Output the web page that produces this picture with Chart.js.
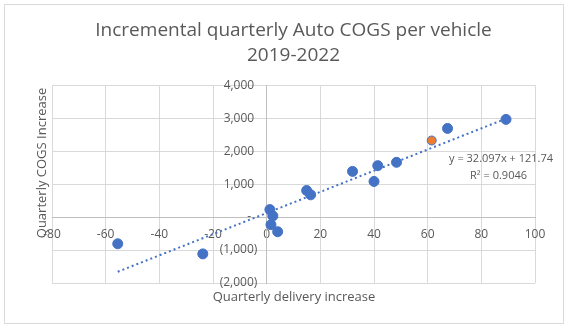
<!DOCTYPE html>
<html>
<head>
<meta charset="utf-8">
<script src="https://cdn.jsdelivr.net/npm/chart.js@4/dist/chart.umd.min.js"></script>
<style>
  html, body { margin: 0; padding: 0; background: #fff; }
  #wrap { width: 571px; height: 329px; position: relative; }
</style>
</head>
<body>
<div id="wrap"><canvas id="chart"></canvas></div>
<script>
// quarterly delivery increase (x) vs quarterly COGS increase (y)
const deliveryIncrease = [-55.5, -23.8, 1.2, 2.3, 1.6, 4.1, 14.9, 16.4, 32.0, 40.0, 41.4, 48.4, 67.4, 89.2];
const cogsIncrease = [-811, -1117, 226, 34, -231, -445, 805, 674, 1385, 1080, 1559, 1660, 2688, 2962];
// highlighted (latest) quarter
const latestDelivery = [61.5];
const latestCogs = [2322];
// linear trend from the chart's label
const trendSlope = 32.097;
const trendIntercept = 121.74;
const trendLabel = ['y = 32.097x + 121.74', 'R² = 0.9046'];
const xTicks = [-80, -60, -40, -20, 0, 20, 40, 60, 80, 100];
const yTicks = [-2000, -1000, 0, 1000, 2000, 3000, 4000];

const textGray = '#595959';
const font = "'Open Sans', 'Liberation Sans', sans-serif";

const points = deliveryIncrease.map((x, i) => ({ x: x, y: cogsIncrease[i] }));
const latest = latestDelivery.map((x, i) => ({ x: x, y: latestCogs[i] }));
const allX = deliveryIncrease.concat(latestDelivery);
const xMin = Math.min(...allX), xMax = Math.max(...allX);
const trend = [
  { x: xMin, y: trendSlope * xMin + trendIntercept },
  { x: xMax, y: trendSlope * xMax + trendIntercept }
];

// accounting style; trailing spaces keep labels off the centred axis
// (tick padding is ignored for value-positioned axes)
function accounting(v) {
  if (v === 0) return '-     ';
  const s = Math.abs(v).toLocaleString('en-US');
  return v < 0 ? '(' + s + ')   ' : s + '    ';
}

// frame, axis titles and trend label
const decorations = {
  id: 'decorations',
  beforeDraw(chart) {
    const ctx = chart.ctx;
    ctx.save();
    ctx.strokeStyle = '#d9d9d9';
    ctx.lineWidth = 1;
    ctx.strokeRect(4.5, 4.5, 559, 319);
    ctx.restore();
  },
  afterDraw(chart) {
    const ctx = chart.ctx;
    const area = chart.chartArea;
    ctx.save();
    ctx.fillStyle = textGray;
    ctx.font = '13px ' + font;
    ctx.textAlign = 'center';
    ctx.textBaseline = 'middle';
    ctx.fillText('Quarterly delivery increase', 294, 297);
    ctx.translate(42, 163);
    ctx.rotate(-Math.PI / 2);
    ctx.fillText('Quarterly COGS Increase', 0, 0);
    ctx.restore();

    ctx.save();
    ctx.fillStyle = textGray;
    ctx.font = '11px ' + font;
    ctx.textAlign = 'right';
    ctx.textBaseline = 'middle';
    ctx.fillText(trendLabel[0], area.right + 18, 159);
    ctx.fillText(trendLabel[1], area.right - 8, 176);
    ctx.restore();
  }
};

new Chart(document.getElementById('chart'), {
  type: 'scatter',
  data: {
    datasets: [
      {
        label: 'Latest',
        data: latest,
        backgroundColor: '#ed7d31',
        borderColor: '#4472c4',
        borderWidth: 1,
        pointRadius: 4.5,
        order: 0
      },
      {
        label: 'Quarters',
        data: points,
        backgroundColor: '#4472c4',
        borderColor: '#4472c4',
        pointRadius: 5,
        order: 1
      },
      {
        label: 'Linear trend',
        type: 'line',
        data: trend,
        borderColor: '#4472c4',
        borderWidth: 2,
        borderDash: [2, 3],
        pointRadius: 0,
        fill: false,
        order: 2
      }
    ]
  },
  options: {
    responsive: true,
    maintainAspectRatio: false,
    animation: false,
    layout: { padding: { left: 52, right: 36, top: 14, bottom: 46 } },
    plugins: {
      legend: { display: false },
      tooltip: { enabled: false },
      title: {
        display: true,
        text: ['Incremental quarterly Auto COGS per vehicle', '2019-2022'],
        color: textGray,
        font: { family: font, size: 19, weight: 'normal', lineHeight: 1.32 },
        padding: { top: 4, bottom: 17 }
      }
    },
    scales: {
      x: {
        type: 'linear',
        position: { y: 0 },
        min: xTicks[0],
        max: xTicks[xTicks.length - 1],
        afterBuildTicks: (scale) => { scale.ticks = xTicks.map(v => ({ value: v })); },
        grid: { color: '#d9d9d9', drawTicks: false },
        border: { color: '#bfbfbf' },
        ticks: { color: textGray, font: { family: font, size: 12 }, padding: 10 }
      },
      y: {
        type: 'linear',
        position: { x: 0 },
        min: yTicks[0],
        max: yTicks[yTicks.length - 1],
        afterBuildTicks: (scale) => { scale.ticks = yTicks.map(v => ({ value: v })); },
        grid: { color: '#d9d9d9', drawTicks: false },
        border: { color: '#bfbfbf' },
        ticks: { color: textGray, font: { family: font, size: 12 }, callback: (v) => accounting(v) }
      }
    }
  },
  plugins: [decorations]
});
</script>
</body>
</html>
